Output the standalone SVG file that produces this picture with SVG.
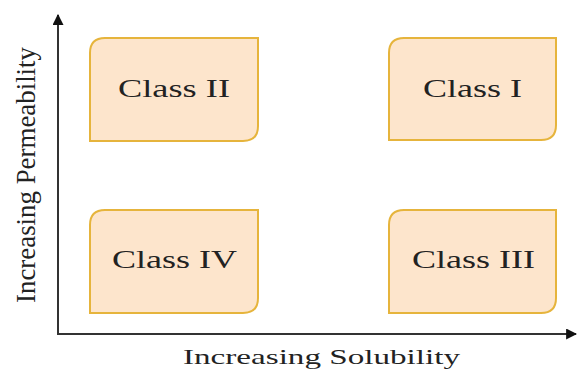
<svg xmlns="http://www.w3.org/2000/svg" width="577" height="371" viewBox="0 0 577 371">
<style>
.box{fill:#fde5cc;stroke:#e6b43c;stroke-width:2}
.lbl{font-family:"Liberation Serif","Times New Roman",serif;fill:#222}
.ax{stroke:#333;stroke-width:2;fill:none}
</style>
<defs>
<marker id="ah" viewBox="0 0 10 10" refX="9" refY="5" markerWidth="5.5" markerHeight="5.5" orient="auto" markerUnits="strokeWidth">
<path d="M0,0 L10,5 L0,10 Z" fill="#111"/>
</marker>
</defs>
<rect width="577" height="371" fill="#fff"/>
<g id="connectors">
<path class="ax" d="M58,335 L58,15" marker-end="url(#ah)"/>
<path class="ax" d="M57,334 L576,334" marker-end="url(#ah)"/>
</g>
<g id="class2">
<path class="box" d="M105,38 L258,38 L258,126 Q258,141 243,141 L90,141 L90,53 Q90,38 105,38 Z"/>
<text class="lbl" x="174" y="97" font-size="26" text-anchor="middle" textLength="112" lengthAdjust="spacingAndGlyphs">Class II</text>
</g>
<g id="class1">
<path class="box" d="M404,38 L556,38 L556,125 Q556,140 541,140 L389,140 L389,53 Q389,38 404,38 Z"/>
<text class="lbl" x="472.5" y="97" font-size="26" text-anchor="middle" textLength="99" lengthAdjust="spacingAndGlyphs">Class I</text>
</g>
<g id="class4">
<path class="box" d="M105,210 L258,210 L258,298 Q258,313 243,313 L90,313 L90,225 Q90,210 105,210 Z"/>
<text class="lbl" x="174.5" y="268" font-size="26" text-anchor="middle" textLength="125" lengthAdjust="spacingAndGlyphs">Class IV</text>
</g>
<g id="class3">
<path class="box" d="M404,210 L556,210 L556,298 Q556,313 541,313 L389,313 L389,225 Q389,210 404,210 Z"/>
<text class="lbl" x="473.5" y="268" font-size="26" text-anchor="middle" textLength="123" lengthAdjust="spacingAndGlyphs">Class III</text>
</g>
<g id="axis-labels">
<text class="lbl" x="321.5" y="364" font-size="22" text-anchor="middle" textLength="277" lengthAdjust="spacingAndGlyphs">Increasing Solubility</text>
<text class="lbl" transform="translate(35,175) rotate(-90)" x="0" y="0" font-size="28" text-anchor="middle" textLength="256" lengthAdjust="spacingAndGlyphs">Increasing Permeability</text>
</g>
</svg>
